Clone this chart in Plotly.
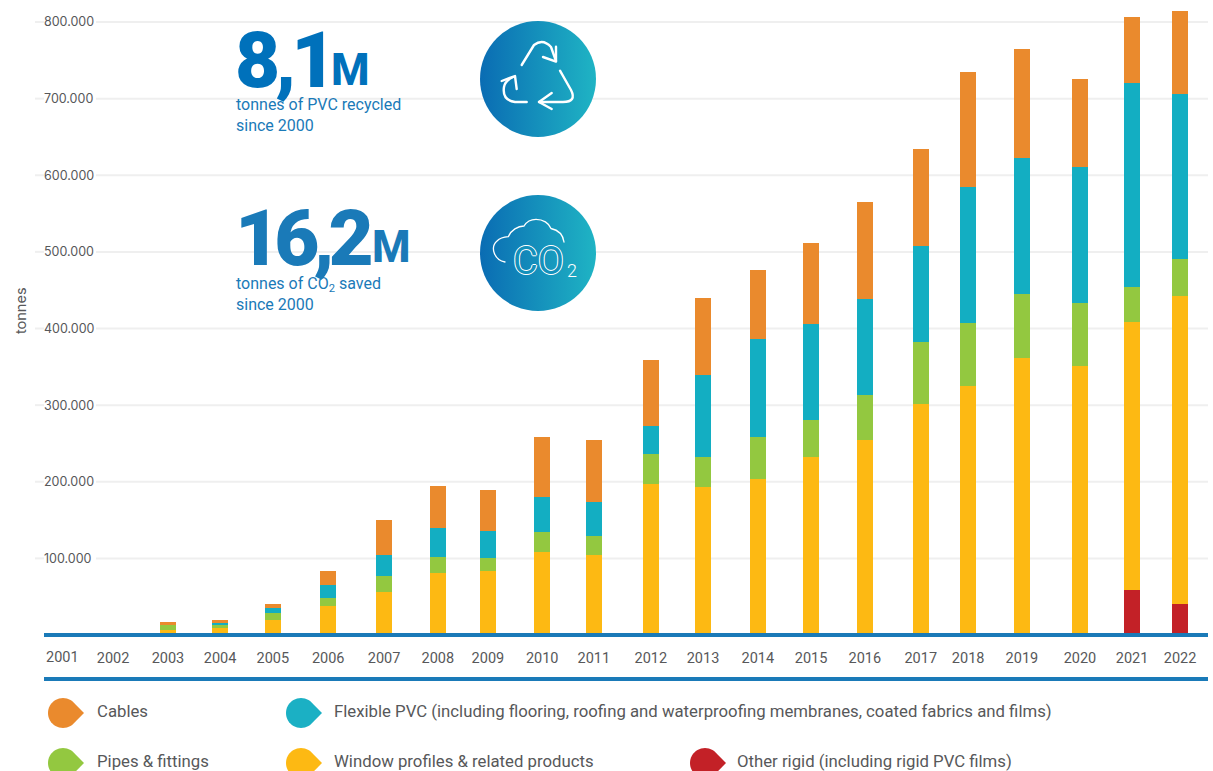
import base64
import numpy as np
import plotly.graph_objects as go

# ---------- data ----------
years = ["2001","2002","2003","2004","2005","2006","2007","2008","2009","2010","2011",
         "2012","2013","2014","2015","2016","2017","2018","2019","2020","2021","2022"]
other_rigid = [0,0,0,0,0,0,0,0,0,0,0,0,0,0,0,0,0,0,0,0,59000,40000]
window_profiles = [0,0,6000,9000,20000,38000,56000,81000,83000,108000,104000,197000,193000,
                   203000,232000,255000,302000,325000,361000,351000,350000,402000]
pipes_fittings = [0,0,7000,5000,9000,10000,21000,21000,18000,26000,25000,39000,39000,
                  55000,49000,58000,80000,82000,84000,82000,45000,49000]
flexible_pvc = [0,0,0,1500,6000,17000,27000,38000,35000,46000,44000,37000,107000,
                128000,125000,125000,126000,178000,178000,178000,266000,215000]
cables = [0,0,4000,4000,5000,18000,46000,54000,53000,78000,82000,86000,101000,
          91000,106000,127000,126000,150000,142000,114000,86000,108000]
y_ticks = [100000,200000,300000,400000,500000,600000,700000,800000]
y_tick_labels = ["100.000","200.000","300.000","400.000","500.000","600.000","700.000","800.000"]

legend_labels = ["Cables",
                 "Flexible PVC (including flooring, roofing and waterproofing membranes, coated fabrics and films)",
                 "Pipes & fittings", "Window profiles & related products",
                 "Other rigid (including rigid PVC films)"]

# ---------- layout helpers ----------
W, H = 1213, 771
L, R, B = 35, 1208, 635
# the source spaces its columns slightly unevenly along the year axis
year_axis_pos = [2001,2001.96,2002.99,2003.97,2004.96,2006,2007.05,2008.06,2009,2010.02,2010.99,
                 2012.06,2013.04,2014.07,2015.07,2016.08,2017.13,2018.02,2019.03,2020.12,2021.10,2022]
PXU = 53.24
x_range = [2001 + (L - 62) / PXU, 2001 + (R - 62) / PXU]
y_range = [0, B / 0.76625 * 1000]

def px(x): return (x - L) / (R - L)
def py(y): return (B - y) / B

ORANGE, TEAL, GREEN, YELLOW, RED = "#ea8a2d", "#13aec2", "#93c840", "#fdb913", "#c32127"
BLUE = "#1a7ab8"
TXT = "#57585a"
SANS = "Roboto"

fig = go.Figure()
for name, vals, col in [("Other rigid", other_rigid, RED),
                        ("Window profiles & related products", window_profiles, YELLOW),
                        ("Pipes & fittings", pipes_fittings, GREEN),
                        ("Flexible PVC", flexible_pvc, TEAL),
                        ("Cables", cables, ORANGE)]:
    fig.add_trace(go.Bar(x=year_axis_pos, y=vals, name=name, marker=dict(color=col, line_width=0),
                         width=0.30, showlegend=False))

shapes, annotations, images = [], [], []

# gridlines, broken behind the labels
for t in y_ticks:
    for x0, x1 in [(L, 44), (96, R)]:
        shapes.append(dict(type="line", xref="paper", yref="y", x0=px(x0), x1=px(x1), y0=t, y1=t,
                           line=dict(color="#efefef", width=2), layer="below"))
# blue rules
for y in [635, 679]:
    shapes.append(dict(type="line", xref="paper", yref="paper", x0=px(44), x1=px(R), y0=py(y), y1=py(y),
                       line=dict(color=BLUE, width=4), layer="above"))

# legend
ang = np.radians(np.linspace(45, 315, 37))
tear = "M21,0 " + " ".join(f"L{15*np.cos(a):.2f},{15*np.sin(a):.2f}" for a in ang) + " Z"
for label, col, mx, my, tx, ty in [
        (legend_labels[0], ORANGE, 63, 713, 96, 711),
        (legend_labels[1], "#1bb0c4", 301, 713, 333, 711),
        (legend_labels[2], GREEN, 63, 763, 96, 761),
        (legend_labels[3], YELLOW, 301, 763, 333, 761),
        (legend_labels[4], RED, 705, 763, 736, 761)]:
    shapes.append(dict(type="path", xref="paper", yref="paper", xsizemode="pixel", ysizemode="pixel",
                       xanchor=px(mx), yanchor=py(my), path=tear, fillcolor=col, line_width=0))
    annotations.append(dict(text=label, xref="paper", yref="paper", x=px(tx), y=py(ty), xanchor="left",
                            yanchor="middle", showarrow=False, borderpad=0,
                            font=dict(family=SANS, size=16.75, color=TXT)))

# icons
def svg_uri(inner):
    svg = ('<svg xmlns="http://www.w3.org/2000/svg" width="464" height="464" viewBox="0 0 116 116">'
           '<defs><linearGradient id="g" x1="0" x2="1" y1="0" y2="0">'
           '<stop offset="0" stop-color="#0a6cb3"/><stop offset="1" stop-color="#1fb4c4"/></linearGradient></defs>'
           '<circle cx="58" cy="58" r="58" fill="url(#g)"/>' + inner + '</svg>')
    return "data:image/svg+xml;base64," + base64.b64encode(svg.encode()).decode()

recycle = ('<g fill="none" stroke="#fff" stroke-width="2.4" stroke-linecap="round" stroke-linejoin="round">'
           '<path d="M41.7 44 L54 24 Q63 17 71 26 L76 40"/><path d="M76 25.7 L76 40.6 L63 36"/>'
           '<path d="M80 49.7 L91 69 Q97 81 83 81 L59 81"/><path d="M71.7 72 L59 81 L71.7 88"/>'
           '<path d="M46.7 81 L35 81 Q22 79 24 66 Q25 60 33 56"/><path d="M21.7 60 L35 55 L36.7 68"/></g>')
cloud = ('<path d="M25 67 C14 65 10 52 17 46 C20 43 25 42 28.3 41.7 C31 35 38 31 44 31 C47 26 51 24.3 56 24.3 '
         'C63 24.3 69 28 71 33.5 C78 35 83 40 84 47" fill="none" stroke="#fff" stroke-width="1.3" stroke-linecap="round"/>')
for inner, top in [(recycle, 21), (cloud, 195)]:
    images.append(dict(source=svg_uri(inner), xref="paper", yref="paper", x=px(480), y=py(top),
                       sizex=116 / (R - L), sizey=116 / B, xanchor="left", yanchor="top",
                       sizing="stretch", layer="above"))

def note(text, x, y, size, color, weight=400, family=SANS, anchor="left", yanchor="middle", angle=0, **kw):
    annotations.append(dict(text=text, xref="paper", yref="paper", x=px(x), y=py(y), xanchor=anchor,
                            yanchor=yanchor, showarrow=False, align="left", borderpad=0, borderwidth=0,
                            textangle=angle,
                            font=dict(family=family, size=size, color=color, weight=weight, **kw)))

note('<span style="letter-spacing:-5px">8,1</span>', 235, 61, 78, "#0071bb", 900)
note("M", 331, 70, 44, "#0071bb", 800)
note('<span style="letter-spacing:-6px">16,2</span>', 235, 238, 78, BLUE, 900)
note("M", 372, 247, 44, BLUE, 800)
note("tonnes of PVC recycled<br>since 2000", 236, 115, 16, BLUE)
note("tonnes of CO<sub>2</sub> saved<br>since 2000", 236, 294, 16, BLUE)
note("tonnes", 21, 311, 14.5, TXT, family="Inter", anchor="center", angle=-90)

outline = "1px 0 #fff, -1px 0 #fff, 0 1px #fff, 0 -1px #fff"
note("CO", 538, 261, 38, "#1491bb", 400, anchor="center", shadow=outline)
note("2", 572, 270, 18, "#ffffff", 300, anchor="center")

# the first year label sits over the inside value labels' column, where the axis drops it
annotations.append(dict(text=years[0], xref="x", yref="paper", x=year_axis_pos[0], y=py(657), xanchor="center",
                        yanchor="middle", showarrow=False, borderpad=0,
                        font=dict(family=SANS, size=14.5, color=TXT)))

fig.update_layout(
    width=W, height=H, barmode="stack", bargap=0,
    margin=dict(l=L, r=W - R, t=0, b=H - B, pad=0, autoexpand=False),
    paper_bgcolor="#ffffff", plot_bgcolor="#ffffff",
    shapes=shapes, annotations=annotations, images=images,
    xaxis=dict(range=x_range, tickvals=year_axis_pos[1:], ticktext=years[1:], showgrid=False, zeroline=False,
               showline=False, ticks="", ticklabelstandoff=12, tickangle=0,
               tickfont=dict(family=SANS, size=14.5, color=TXT), automargin=False),
    yaxis=dict(range=y_range, tickvals=y_ticks, ticktext=y_tick_labels, showgrid=False, zeroline=False,
               showline=False, ticks="", ticklabelposition="inside", ticklabelstandoff=6,
               tickfont=dict(family="Inter", size=12.5, color=TXT), automargin=False),
    hovermode=False,
)

fig.write_html("out.html", post_script="document.body.style.margin='0';",
               config=dict(displayModeBar=False))
